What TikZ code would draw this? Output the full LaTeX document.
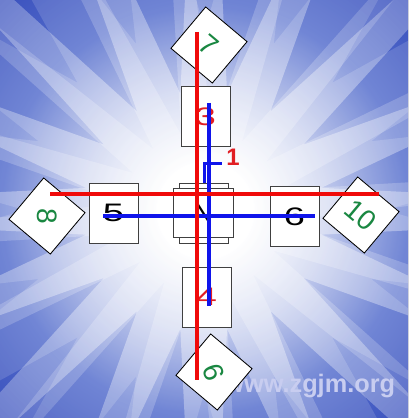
\documentclass[tikz,border=0pt]{standalone}
\usepackage{fontspec}
\setmainfont{Liberation Sans}
\usetikzlibrary{positioning}
\usetikzlibrary{fadings}

\definecolor{bgblue}{RGB}{25,45,170}
\definecolor{bgmid}{RGB}{85,110,205}
\definecolor{numgreen}{RGB}{25,135,65}
\definecolor{numred}{RGB}{225,30,35}
\definecolor{linered}{RGB}{240,10,10}
\definecolor{lineblue}{RGB}{15,20,235}
\definecolor{markcol}{RGB}{200,205,240}

\pgfdeclareradialshading{burst}{\pgfpointorigin}{color(0bp)=(white); color(4bp)=(white); color(17bp)=(bgmid); color(34bp)=(bgblue); color(50bp)=(bgblue)}
\tikzfading[name=rayfade, inner color=transparent!0, outer color=transparent!100]

\newcommand{\widedigit}[1]{\scalebox{1.5}[1]{\fontsize{18}{18}\selectfont #1}}

\begin{document}
\begin{tikzpicture}[x=0.25mm, y=-0.25mm]
    \tikzset{
        card/.style={draw=black!75, fill=white, line width=0.5pt, minimum width=12.25mm, minimum height=15mm, inner sep=0pt},
        tile/.style={draw=black, fill=white, line width=0.6pt, minimum size=13.5mm, inner sep=0pt, text=numgreen, font=\fontsize{20}{20}\selectfont},
        redbar/.style={draw=linered, line width=1.1mm},
        bluebar/.style={draw=lineblue, line width=1mm},
    }
    \useasboundingbox (0,0) rectangle (408,418);
    \clip (0,0) rectangle (408,418);

    % background burst
    \fill[shading=burst] (205,210) circle (75mm);
    \begin{scope}[shift={(205,210)}]
        \fill[white, path fading=rayfade, opacity=0.5] (0:150mm) \foreach \k in {0,...,15} { -- (\k*22.5:150mm) -- (\k*22.5+11.25:30mm) } -- cycle;
        \fill[white, path fading=rayfade, opacity=0.25] (11.25:150mm) \foreach \k in {0,...,15} { -- (\k*22.5+11.25:150mm) -- (\k*22.5+22.5:45mm) } -- cycle;
        \fill[white, path fading=rayfade, opacity=0.3] (5:150mm) \foreach \k in {0,...,15} { -- (\k*22.5+5:150mm) -- (\k*22.5+16:20mm) } -- cycle;
    \end{scope}

    \node[anchor=east, text=markcol, font=\bfseries\fontsize{18}{18}\selectfont] (mark) at (400,386) {www.zgjm.org};

    % cards
    \node[card] (c3) at (205.5,116.5) {\textcolor{numred}{\widedigit{3}}};
    \node[card] (c5) at (113.5,213) {\widedigit{5}};
    \node[card] (c6) at (294.5,216.5) {\widedigit{6}};
    \node[card] (c4) at (206.5,297) {\textcolor{numred}{\widedigit{4}}};
    \node[card] (cNb) at (203.5,213) {};
    \node[card, minimum width=15mm, minimum height=12.25mm] (cN) at (203,212.5) {\fontsize{20}{20}\selectfont N};

    % tiles
    \node[tile, rotate=-40] (t7) at (209,45) {7};
    \node[tile, rotate=-40] (t8) at (47,216) {\rotatebox{-50}{8}};
    \node[tile, rotate=-40] (t10) at (361,215) {10};
    \node[tile, rotate=50] (t9) at (214,372) {\rotatebox{60}{9}};

    \coordinate (rtop) at (197,32);
    \coordinate (rbot) at (197,380);
    \coordinate (rleft) at (50,194);
    \coordinate (rright) at (379,194);
    \coordinate (btop) at (209,103);
    \coordinate (bbot) at (209,306);
    \coordinate (bleft) at (103,216);
    \coordinate (bright) at (315,216);

    \draw[bluebar] (btop) -- (bbot);
    \draw[bluebar] (bleft) -- (bright);
    \draw[redbar] (rtop) -- (rbot);
    \draw[redbar] (rleft) -- (rright);

    % marker
    \coordinate (m1) at (204,183);
    \coordinate (m2) at (204,164);
    \coordinate (m3) at (222,164);
    \draw[draw=lineblue, line width=0.75mm] (m1) -- (m2) -- (m3);
    \node[text=numred, font=\bfseries\fontsize{17}{17}\selectfont] (one) at (233,157) {1};
\end{tikzpicture}
\end{document}
